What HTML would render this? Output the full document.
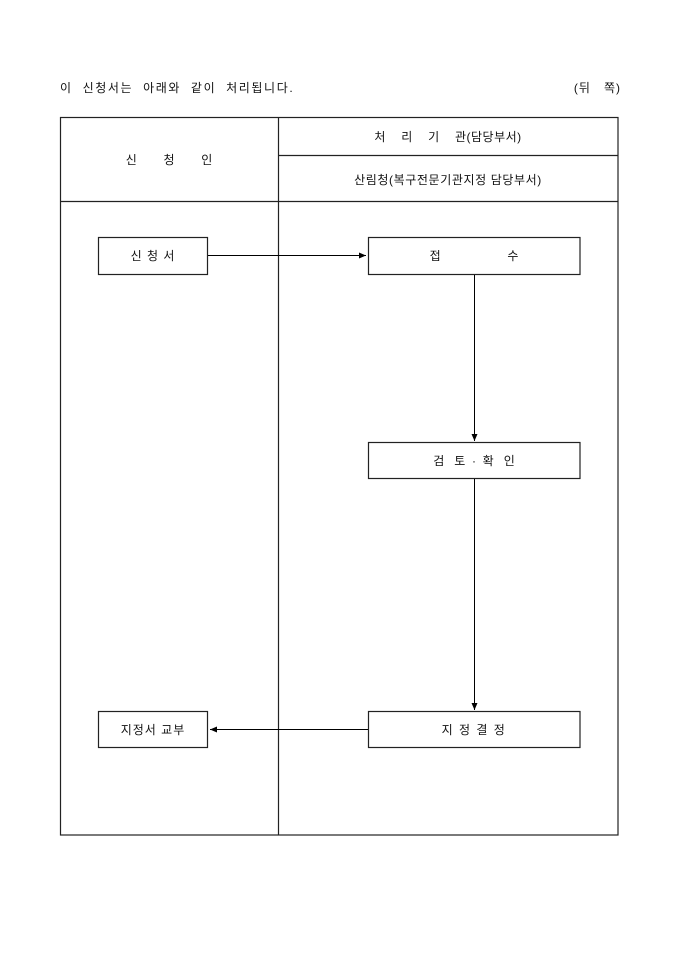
<!DOCTYPE html>
<html><head><meta charset="utf-8"><style>
html,body{margin:0;padding:0;background:#fff;}
svg{display:block;}
text{font-family:"Liberation Sans","Noto Sans CJK KR","NanumGothic",sans-serif;font-size:12px;fill:#111;}
</style></head><body>
<svg width="680" height="962" viewBox="0 0 680 962" xmlns="http://www.w3.org/2000/svg">
<defs><marker id="a" markerWidth="8" markerHeight="8" refX="7" refY="4" orient="auto" markerUnits="userSpaceOnUse"><path d="M0,1 L7,4 L0,7 z" fill="#000"/></marker></defs>
<text x="60" y="92" letter-spacing="1.6" word-spacing="5" xml:space="preserve">이 신청서는 아래와 같이 처리됩니다.</text>
<text x="621" y="92" text-anchor="end" xml:space="preserve" letter-spacing="1">(뒤   쪽)</text>
<g stroke="#222" stroke-width="1.2" fill="none">
<rect x="60.5" y="117.5" width="557.5" height="717.5"/>
<line x1="278.5" y1="117" x2="278.5" y2="835"/>
<line x1="278" y1="155.5" x2="618" y2="155.5"/>
<line x1="60" y1="201.5" x2="618" y2="201.5"/>
<rect x="98.5" y="237.5" width="109" height="37"/>
<rect x="368.5" y="237.5" width="211.5" height="37"/>
<rect x="368.5" y="442.5" width="211.5" height="36"/>
<rect x="368.5" y="711.5" width="211.5" height="36"/>
<rect x="98.5" y="711.5" width="109" height="36"/>
</g>
<g stroke="#000" stroke-width="1" fill="none">
<line x1="208" y1="255.5" x2="366" y2="255.5" marker-end="url(#a)"/>
<line x1="474.5" y1="275" x2="474.5" y2="441" marker-end="url(#a)"/>
<line x1="474.5" y1="479" x2="474.5" y2="710" marker-end="url(#a)"/>
<line x1="368" y1="729.5" x2="210" y2="729.5" marker-end="url(#a)"/>
</g>
<text x="169" y="164" text-anchor="middle" xml:space="preserve">신        청        인</text>
<text x="448" y="141" text-anchor="middle" xml:space="preserve" letter-spacing="0.5">처    리    기    관(담당부서)</text>
<text x="448" y="184" text-anchor="middle" letter-spacing="0.6">산림청(복구전문기관지정 담당부서)</text>
<text x="153" y="260" text-anchor="middle" letter-spacing="1">신 청 서</text>
<text x="474" y="260" text-anchor="middle" xml:space="preserve">접                    수</text>
<text x="474" y="465" text-anchor="middle" xml:space="preserve">검   토  ·  확   인</text>
<text x="474" y="734" text-anchor="middle" letter-spacing="1.5">지 정 결 정</text>
<text x="153" y="734" text-anchor="middle" letter-spacing="1">지정서 교부</text>
</svg>
</body></html>
